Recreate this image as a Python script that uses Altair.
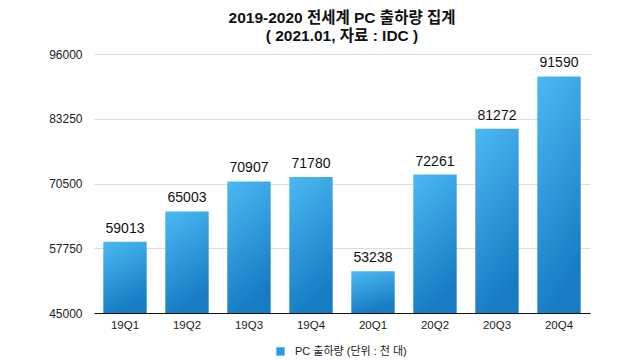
import altair as alt
import pandas as pd

quarters = ["19Q1", "19Q2", "19Q3", "19Q4", "20Q1", "20Q2", "20Q3", "20Q4"]
shipments = [59013, 65003, 70907, 71780, 53238, 72261, 81272, 91590]
series_name = "PC 출하량 (단위 : 천 대)"
y_ticks = [45000, 57750, 70500, 83250, 96000]

df = pd.DataFrame({"quarter": quarters, "value": shipments, "series": [series_name] * len(quarters)})

FONT = "Liberation Sans, Noto Sans CJK KR"
TFONT = "Liberation Sans, Noto Sans CJK KR"

grad = alt.LinearGradient(
    gradient="linear",
    stops=[alt.GradientStop(color="#4bb9f3", offset=0), alt.GradientStop(color="#177cc4", offset=1)],
    x1=0, x2=0.3, y1=0, y2=1,
)

x_enc = alt.X("quarter:N", sort=quarters, title=None,
              scale=alt.Scale(paddingInner=0.3, paddingOuter=0.15),
              axis=alt.Axis(labelAngle=0, labelFontSize=11.5, labelColor="#222", domainColor="#111",
                            domainWidth=1.2, ticks=False, labelPadding=6, labelFont=FONT))
y_enc = alt.Y("value:Q", title=None,
              scale=alt.Scale(domain=[45000, 96000], nice=False, zero=False),
              axis=alt.Axis(values=y_ticks, format="d", labelFontSize=12, labelColor="#222", domain=False,
                            ticks=False, labelPadding=12, gridColor="#dddddd", gridWidth=1, labelFont=FONT))

bars = alt.Chart(df).mark_bar(fill=grad).encode(
    x=x_enc,
    y=y_enc,
    y2=alt.datum(45000),
)

legend_layer = alt.Chart(df).mark_bar().encode(
    x=alt.X("quarter:N", sort=quarters),
    y=alt.datum(45000),
    y2=alt.datum(45000),
    color=alt.Color("series:N", scale=alt.Scale(range=["#2a9ce0"]), title=None,
                    legend=alt.Legend(orient="none", legendX=181, legendY=292, padding=0,
                                      symbolType="square", symbolSize=70, labelOffset=9,
                                      symbolStrokeWidth=0, labelFontSize=11, labelFont=FONT,
                                      labelColor="#222")),
)

labels = alt.Chart(df).mark_text(baseline="bottom", dy=-6, fontSize=14, font=FONT, color="#111").encode(
    x=alt.X("quarter:N", sort=quarters),
    y="value:Q",
    text="value:Q",
)

chart = alt.layer(bars, legend_layer, labels).properties(
    width=496,
    height=259,
    title=alt.TitleParams(
        text=["2019-2020 전세계 PC 출하량 집계", "( 2021.01, 자료 : IDC )"],
        fontSize=15.5, fontWeight="bold", font=TFONT, lineHeight=18, offset=4, anchor="middle", color="#111",
    ),
    autosize=alt.AutoSizeParams(type="none"),
    padding={"left": 86, "top": 46, "right": 36, "bottom": 44},
).configure_view(stroke=None)

chart.save("out.html", embed_options={"renderer": "svg", "actions": False})
